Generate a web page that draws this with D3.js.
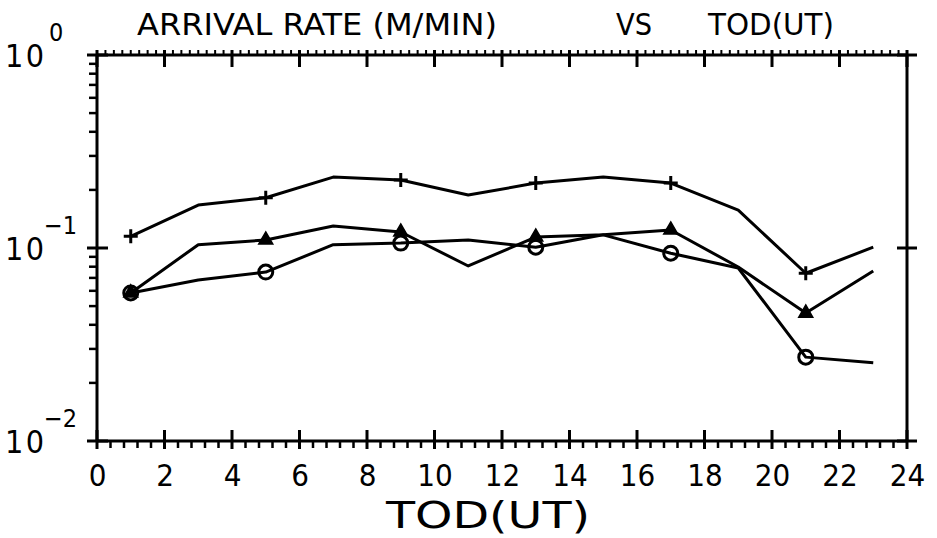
<!DOCTYPE html>
<html>
<head>
<meta charset="utf-8">
<script src="https://cdn.jsdelivr.net/npm/d3@7"></script>
<style>
  body { margin: 0; background: #fff; }
  svg { display: block; }
  text { font-family: "DejaVu Sans", sans-serif; font-stretch: condensed; fill: #000; }
</style>
</head>
<body>
<script>
// hours (UT) of each sample
let hours = [1, 3, 5, 7, 9, 11, 13, 15, 17, 19, 21, 23]

// arrival rate (M/MIN), three curves
let plusRate = [0.115, 0.167, 0.182, 0.233, 0.225, 0.188, 0.217, 0.233, 0.217, 0.157, 0.074, 0.101]
let triRate  = [0.0585, 0.104, 0.110, 0.130, 0.121, 0.0807, 0.114, 0.117, 0.124, 0.0797, 0.046, 0.076]
let circRate = [0.0585, 0.0683, 0.075, 0.104, 0.106, 0.110, 0.101, 0.117, 0.094, 0.0788, 0.0272, 0.0254]

// markers are only drawn every 4 hours
let markerHours = [1, 5, 9, 13, 17, 21]

let xMajor = [0, 2, 4, 6, 8, 10, 12, 14, 16, 18, 20, 22, 24]
let yDecades = [1, 0.1, 0.01]
let yExponents = ['0', '\u22121', '\u22122']

let width = 937, height = 538

let svg = d3.select('body')
  .append('svg')
  .attr('width', width)
  .attr('height', height)

let x = d3.scaleLinear().domain([0, 24]).range([97, 907])
let y = d3.scaleLog().domain([0.01, 1]).range([441, 55])

let ink = '#000'

// frame
let frame = svg.append('g')
  .attr('stroke', ink)
  .attr('stroke-width', 3)
  .attr('fill', 'none')
frame.append('line').attr('x1', x(0)).attr('x2', x(24)).attr('y1', y(0.01)).attr('y2', y(0.01))
frame.append('line').attr('x1', x(0)).attr('x2', x(24)).attr('y1', y(1)).attr('y2', y(1))
frame.append('line').attr('x1', x(0)).attr('x2', x(0)).attr('y1', y(1)).attr('y2', y(0.01))
frame.append('line').attr('x1', x(24)).attr('x2', x(24)).attr('y1', y(1)).attr('y2', y(0.01))

// minor ticks
let xMinorBottom = d3.range(0, 24.01, 0.4).filter(v => Math.abs(v / 2 - Math.round(v / 2)) > 0.01)
let xMinorTop = d3.range(0, 24.01, 0.25).filter(v => Math.abs(v / 2 - Math.round(v / 2)) > 0.01)
let yMinor = []
for (let d of [0.01, 0.1]) for (let k = 2; k <= 9; k++) yMinor.push(d * k)

let ticks = svg.append('g').attr('stroke', ink)

ticks.selectAll('.xmb').data(xMinorBottom).enter().append('line')
  .attr('stroke-width', 2.5)
  .attr('x1', d => x(d)).attr('x2', d => x(d))
  .attr('y1', y(0.01)).attr('y2', y(0.01) + 7)

ticks.selectAll('.xmt').data(xMinorTop).enter().append('line')
  .attr('stroke-width', 2)
  .attr('x1', d => x(d)).attr('x2', d => x(d))
  .attr('y1', y(1)).attr('y2', y(1) - 5)

ticks.selectAll('.ym').data(yMinor).enter().append('line')
  .attr('stroke-width', 2.5)
  .attr('x1', x(0) - 8).attr('x2', x(0))
  .attr('y1', d => y(d)).attr('y2', d => y(d))

// major ticks, crossing the frame
ticks.selectAll('.xMb').data(xMajor).enter().append('line')
  .attr('stroke-width', 3)
  .attr('x1', d => x(d)).attr('x2', d => x(d))
  .attr('y1', y(0.01) - 11).attr('y2', y(0.01) + 8)

ticks.selectAll('.xMt').data(xMajor).enter().append('line')
  .attr('stroke-width', 3)
  .attr('x1', d => x(d)).attr('x2', d => x(d))
  .attr('y1', y(1) - 5).attr('y2', y(1) + 12)

ticks.selectAll('.yMl').data(yDecades).enter().append('line')
  .attr('stroke-width', 3)
  .attr('x1', x(0) - 10).attr('x2', x(0) + 11)
  .attr('y1', d => y(d)).attr('y2', d => y(d))

ticks.selectAll('.yMr').data(yDecades).enter().append('line')
  .attr('stroke-width', 3)
  .attr('x1', x(24) - 10).attr('x2', x(24) + 10)
  .attr('y1', d => y(d)).attr('y2', d => y(d))

// x tick labels
svg.append('g')
  .attr('transform', `translate(0, ${y(0.01)})`)
  .call(d3.axisBottom(x).tickValues(xMajor).tickSize(0).tickPadding(22.5).tickFormat(d3.format('d')))
  .call(g => g.select('.domain').remove())
  .call(g => g.selectAll('text')
    .style('font-family', '"DejaVu Sans", sans-serif')
    .style('font-stretch', 'condensed')
    .style('font-size', '31px')
    .attr('fill', ink))

// y labels: 10 with exponent
let yl = svg.append('g')
yl.selectAll('.ten').data(yDecades).enter().append('text')
  .attr('x', 5)
  .attr('y', d => y(d) + 12)
  .attr('textLength', 39)
  .style('font-size', '32px')
  .text('10')
yl.selectAll('.exp').data(yDecades).enter().append('text')
  .attr('x', (d, i) => i === 0 ? 49 : 44)
  .attr('y', d => y(d) - 14)
  .style('font-size', '25px')
  .text((d, i) => yExponents[i])

// titles
let titleSize = '30px'
svg.append('text').attr('x', 137).attr('y', 35).attr('textLength', 360)
  .attr('lengthAdjust', 'spacingAndGlyphs')
  .style('font-size', titleSize).text('ARRIVAL RATE (M/MIN)')
svg.append('text').attr('x', 616).attr('y', 35).attr('textLength', 36)
  .attr('lengthAdjust', 'spacingAndGlyphs')
  .style('font-size', titleSize).text('VS')
svg.append('text').attr('x', 708).attr('y', 35).attr('textLength', 126)
  .attr('lengthAdjust', 'spacingAndGlyphs')
  .style('font-size', titleSize).text('TOD(UT)')
svg.append('text').attr('x', 386).attr('y', 528).attr('textLength', 204)
  .attr('lengthAdjust', 'spacingAndGlyphs')
  .style('font-size', '38px').text('TOD(UT)')

// curves
let line = d3.line().x(d => x(d[0])).y(d => y(d[1]))
let series = [plusRate, triRate, circRate]
svg.append('g').selectAll('path').data(series).enter().append('path')
  .attr('d', s => line(hours.map((h, i) => [h, s[i]])))
  .attr('fill', 'none')
  .attr('stroke', ink)
  .attr('stroke-width', 3)
  .attr('stroke-linejoin', 'round')

let at = s => markerHours.map(h => [h, s[hours.indexOf(h)]])

// plus markers
svg.append('g').selectAll('path').data(at(plusRate)).enter().append('path')
  .attr('d', 'M-7,0H7M0,-7V7')
  .attr('transform', d => `translate(${x(d[0])},${y(d[1])})`)
  .attr('fill', 'none').attr('stroke', ink).attr('stroke-width', 3)

// triangle markers
svg.append('g').selectAll('path').data(at(triRate)).enter().append('path')
  .attr('d', d3.symbol(d3.symbolTriangle, 85)())
  .attr('transform', d => `translate(${x(d[0])},${y(d[1])})`)
  .attr('fill', ink).attr('stroke', ink).attr('stroke-width', 1.5)

// circle markers
svg.append('g').selectAll('circle').data(at(circRate)).enter().append('circle')
  .attr('cx', d => x(d[0])).attr('cy', d => y(d[1])).attr('r', 7)
  .attr('fill', 'none').attr('stroke', ink).attr('stroke-width', 3)
</script>
</body>
</html>
